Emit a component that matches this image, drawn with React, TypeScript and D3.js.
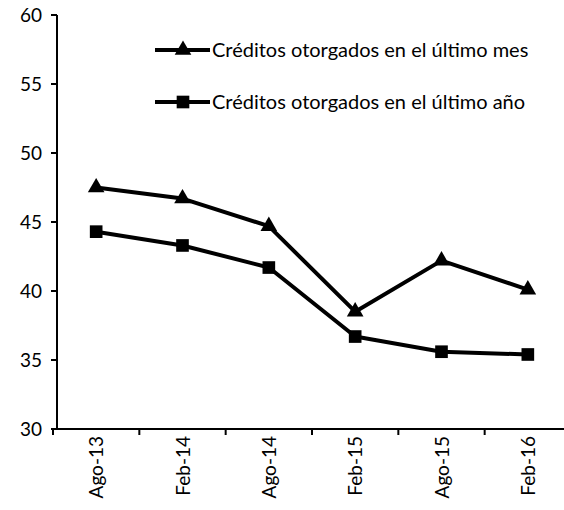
import React from "react";
import * as d3 from "d3";

const categories = ["Ago-13", "Feb-14", "Ago-14", "Feb-15", "Ago-15", "Feb-16"];
const mesValues = [47.5, 46.7, 44.7, 38.5, 42.2, 40.1];
const anoValues = [44.3, 43.3, 41.7, 36.7, 35.6, 35.4];
const yTicks = [30, 35, 40, 45, 50, 55, 60];
const seriesNames = ["Créditos otorgados en el último mes", "Créditos otorgados en el último año"];

const W = 564;
const H = 510;
const FONT = "Lato, 'Open Sans', sans-serif";

export default function App() {
  const x = d3.scaleBand<string>().domain(categories).range([53, 571]);
  const y = d3.scaleLinear().domain([30, 60]).range([429, 15]);
  const cx = (c: string) => (x(c) as number) + x.bandwidth() / 2;
  const line = d3
    .line<number>()
    .x((_, i) => cx(categories[i]))
    .y((d) => y(d));
  const tri = d3.symbol().type(d3.symbolTriangle).size(120)();
  const sq = d3.symbol().type(d3.symbolSquare).size(160)();
  const ticksX = [...categories.map((c) => x(c) as number), 571];

  return (
    <svg width={W} height={H} style={{ position: "absolute", left: 0, top: 0, background: "#fff" }}>
      {/* y axis */}
      <line x1={57} x2={57} y1={15} y2={429} stroke="#000" strokeWidth={2} />
      {yTicks.map((t) => (
        <g key={t}>
          <line x1={51} x2={57} y1={y(t)} y2={y(t)} stroke="#000" strokeWidth={2} />
          <text x={42} y={y(t)} dy="0.36em" textAnchor="end" fontFamily={FONT} fontSize={19} fill="#000">
            {t}
          </text>
        </g>
      ))}
      {/* x axis */}
      <line x1={51} x2={W} y1={429} y2={429} stroke="#000" strokeWidth={2} />
      {ticksX.map((t, i) => (
        <line key={i} x1={t} x2={t} y1={429} y2={435} stroke="#000" strokeWidth={2} />
      ))}
      {categories.map((c) => (
        <text
          key={c}
          transform={`translate(${cx(c) + 7},${436}) rotate(-90)`}
          textAnchor="end"
          fontFamily={FONT}
          fontSize={19}
          fill="#000"
        >
          {c}
        </text>
      ))}
      {/* series */}
      <path d={line(mesValues) || ""} fill="none" stroke="#000" strokeWidth={4} strokeLinejoin="round" />
      <path d={line(anoValues) || ""} fill="none" stroke="#000" strokeWidth={4} strokeLinejoin="round" />
      {mesValues.map((v, i) => (
        <path key={"m" + i} d={tri || ""} transform={`translate(${cx(categories[i])},${y(v)})`} fill="#000" />
      ))}
      {anoValues.map((v, i) => (
        <path key={"a" + i} d={sq || ""} transform={`translate(${cx(categories[i])},${y(v)})`} fill="#000" />
      ))}
      {/* legend */}
      {seriesNames.map((name, i) => {
        const ly = 50 + i * 52;
        return (
          <g key={name}>
            <line x1={155} x2={210} y1={ly} y2={ly} stroke="#000" strokeWidth={4} />
            <path d={(i === 0 ? tri : sq) || ""} transform={`translate(183,${ly})`} fill="#000" />
            <text x={212} y={ly} dy="0.36em" fontFamily={FONT} fontSize={20} fill="#000">
              {name}
            </text>
          </g>
        );
      })}
    </svg>
  );
}
